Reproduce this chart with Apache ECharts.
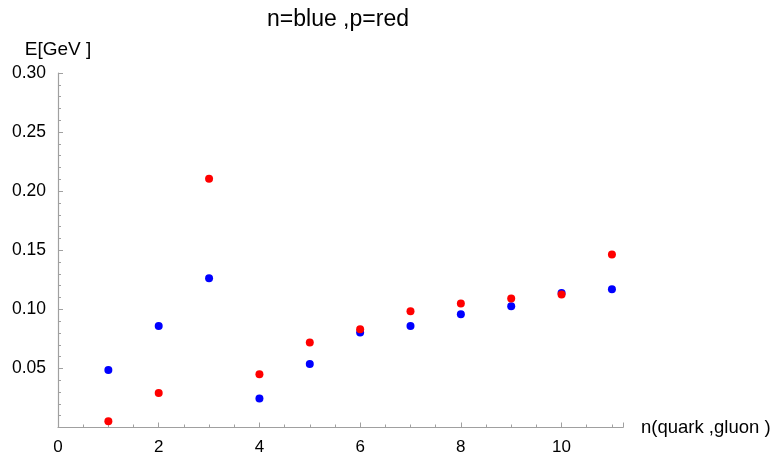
<!DOCTYPE html>
<html>
<head>
<meta charset="utf-8">
<script src="https://cdn.jsdelivr.net/npm/echarts@6/dist/echarts.min.js"></script>
<style>
  html, body { margin: 0; padding: 0; background: #fff; }
  #c { width: 779px; height: 458px; }
</style>
</head>
<body>
<div id="c"></div>
<script>
  // n (quark, gluon) and energies in GeV
  const nVals = [1, 2, 3, 4, 5, 6, 7, 8, 9, 10, 11];
  const neutron = [0.0486, 0.086, 0.1262, 0.0246, 0.0538, 0.0805, 0.086, 0.0959, 0.1026, 0.1138, 0.117];
  const proton = [0.0052, 0.0291, 0.2105, 0.045, 0.072, 0.0832, 0.0984, 0.1049, 0.1091, 0.1125, 0.1465];

  const FONT = "Liberation Sans, Arial, sans-serif";
  const AXIS = "#a0a0a0";
  const pts = ys => nVals.map((n, i) => [n, ys[i]]);

  const chart = echarts.init(document.getElementById("c"), null, { renderer: "canvas" });
  chart.setOption({
    animation: false,
    title: {
      text: "n=blue ,p=red", left: 333, top: 3, textAlign: "center",
      textStyle: { fontFamily: FONT, fontSize: 23, fontWeight: "normal", color: "#000" },
    },
    grid: { left: 58, right: 156, top: 73, bottom: 30.5, containLabel: false },
    xAxis: {
      type: "value", min: 0, max: 11.22, interval: 2,
      name: "n(quark ,gluon )", nameLocation: "end", nameGap: 18,
      nameTextStyle: { fontFamily: FONT, fontSize: 18.5, color: "#000" },
      axisLine: { lineStyle: { color: AXIS, width: 1.2 } },
      axisTick: { inside: true, length: 5, lineStyle: { color: AXIS } },
      minorTick: { show: true, splitNumber: 4, length: 3, lineStyle: { color: AXIS } },
      axisLabel: { fontFamily: FONT, fontSize: 17, color: "#000", margin: 11, showMaxLabel: false },
      splitLine: { show: false },
    },
    yAxis: {
      type: "value", min: 0, max: 0.30, interval: 0.05,
      name: "E[GeV ]", nameLocation: "end", nameGap: 14,
      nameTextStyle: { fontFamily: FONT, fontSize: 19, color: "#000", align: "center" },
      axisLine: { lineStyle: { color: AXIS, width: 1.2 } },
      axisTick: { inside: true, length: 5, lineStyle: { color: AXIS } },
      minorTick: { show: true, splitNumber: 5, length: 3, lineStyle: { color: AXIS } },
      axisLabel: { fontFamily: FONT, fontSize: 17.5, color: "#000", margin: 12, showMinLabel: false, formatter: v => v.toFixed(2) },
      splitLine: { show: false },
    },
    series: [
      { name: "n", type: "scatter", symbolSize: 8, itemStyle: { color: "#0000ff", opacity: 1 }, data: pts(neutron) },
      { name: "p", type: "scatter", symbolSize: 8, itemStyle: { color: "#ff0000", opacity: 1 }, data: pts(proton) },
    ],
  });
</script>
</body>
</html>
